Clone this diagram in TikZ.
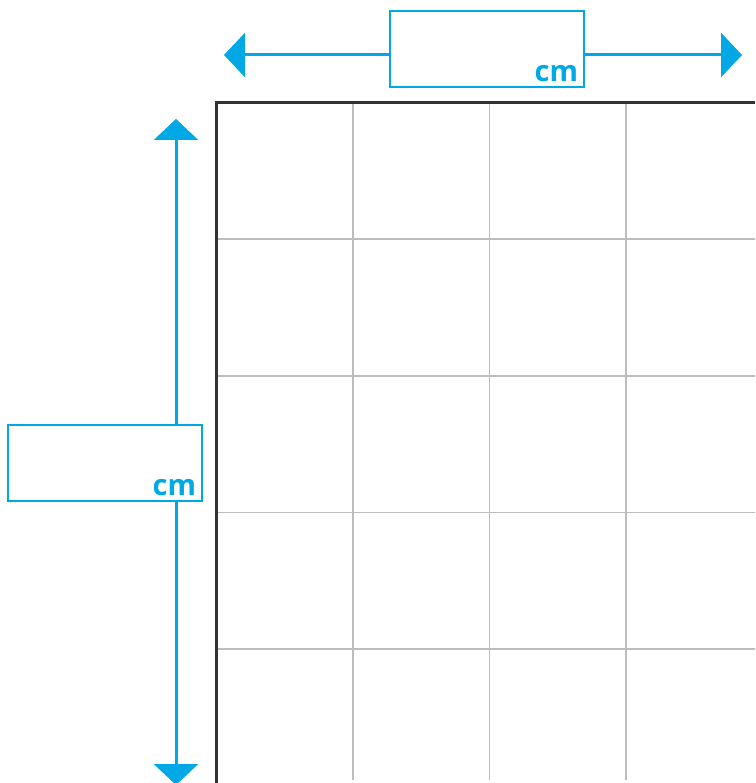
\documentclass[tikz,border=0pt]{standalone}
\usepackage{fontspec}
\setmainfont{Open Sans}
\usetikzlibrary{arrows.meta}
\definecolor{rulerblue}{HTML}{00A8E6}
\definecolor{gridgray}{HTML}{BDBDBD}
\definecolor{framegray}{HTML}{333333}

\def \cell {136.5}
\def \gridx {216.5}
\def \gridy {102.8}

\tikzset{
  sizebox/.style={draw=rulerblue, line width=2.4pt, minimum width=194pt, minimum height=76pt, inner sep=0pt},
  unit/.style={text=rulerblue, font=\fontsize{29}{29}\selectfont\bfseries, inner sep=0pt},
  ruler/.style={draw=rulerblue, line width=3pt, -{Triangle[length=21pt,width=44pt]}}
}

\begin{document}
\begin{tikzpicture}[x=1pt, y=-1pt]
\useasboundingbox (0,0) rectangle (755,783);
% grid
\foreach \i in {1,2,3}
  \draw[gridgray, line width=1.6pt] (\gridx+\i*\cell,\gridy) -- (\gridx+\i*\cell,780);
\foreach \j in {1,2,3,4}
  \draw[gridgray, line width=1.6pt] (\gridx,\gridy+\j*\cell) -- (755,\gridy+\j*\cell);
\draw[framegray, line width=3.2pt] (\gridx,783) -- (\gridx,\gridy) -- (755,\gridy);
% width
\node[sizebox] (wbox) at (487,49) {};
\node[unit, anchor=base east, xshift=-7pt, yshift=7pt] (wunit) at (wbox.south east) {cm};
\coordinate (wleft) at (224,55);
\coordinate (wright) at (742,55);
\draw[ruler] (wbox.west |- wleft) -- (wleft);
\draw[ruler] (wbox.east |- wright) -- (wright);
% height
\node[sizebox] (hbox) at (105,463) {};
\node[unit, anchor=base east, xshift=-7pt, yshift=7pt] (hunit) at (hbox.south east) {cm};
\coordinate (htop) at (176,119);
\coordinate (hbot) at (176,785);
\draw[ruler] (hbox.north -| htop) -- (htop);
\draw[ruler] (hbox.south -| hbot) -- (hbot);
\end{tikzpicture}
\end{document}
